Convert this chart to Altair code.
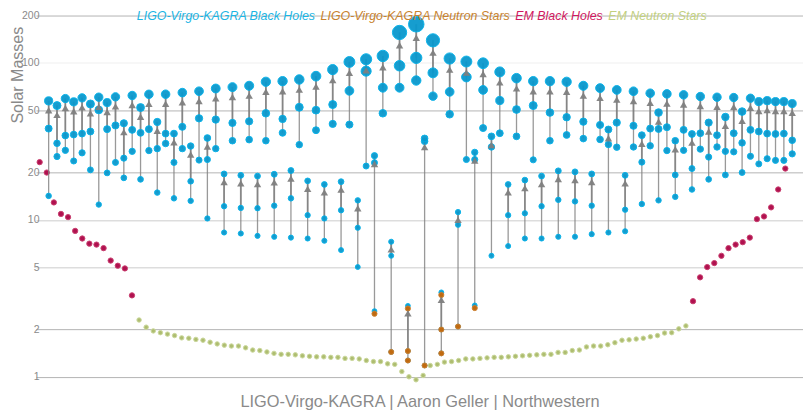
import altair as alt
import numpy as np
import pandas as pd

# final mass, heavier progenitor, lighter progenitor of each LVK merger, left to right
final_mass = [
    57.2, 53.4, 59.2, 56.4, 59.8, 54.7, 60.4, 55.8, 60.7, 41.2,
    61.9, 51.9, 63.0, 42.0, 63.1, 35.4, 64.6, 29.5, 65.9, 33.2,
    68.6, 19.6, 70.0, 19.2, 71.4, 19.0, 75.7, 19.5, 76.4, 20.6,
    78.3, 17.7, 82.2, 16.8, 90.5, 17.5, 101.3, 13.3, 105.3, 25.6,
    110.6, 7.25, 156.0, 2.83, 176.0, 33.0, 139.0, 3.45, 106.5, 11.2,
    101.9, 26.9, 99.4, 34.0, 87.5, 16.8, 79.8, 17.9, 76.4, 19.0,
    76.4, 20.5, 75.7, 20.2, 71.4, 19.6, 69.0, 37.6, 67.2, 19.2,
    65.9, 34.6, 64.0, 48.2, 63.4, 31.9, 62.5, 35.2, 61.0, 41.6,
    60.4, 45.2, 60.1, 48.9, 59.5, 56.6, 57.4, 56.6, 56.6, 55.0,
]
primary_mass = [
    38.1, 30.7, 34.4, 34.9, 35.4, 36.5, 50.1, 37.8, 39.9, 24.7,
    37.4, 35.8, 37.8, 28.4, 35.4, 23.2, 39.1, 17.6, 44.3, 24.2,
    43.5, 12.2, 41.4, 11.9, 42.4, 11.85, 47.7, 12.3, 43.9, 13.7,
    52.1, 10.7, 49.9, 10.2, 54.2, 11.5, 66.3, 8.9, 88.5, 23.1,
    69.4, 5.9, 95.8, 1.46, 107.5, 31.6, 86.3, 2.0, 65.3, 9.3,
    81.1, 24.2, 67.2, 29.1, 57.5, 10.7, 50.4, 11.0, 53.4, 12.2,
    48.2, 13.4, 45.0, 13.1, 42.2, 12.3, 40.2, 30.2, 41.6, 11.6,
    39.7, 23.3, 38.1, 37.9, 38.9, 19.3, 37.4, 21.2, 35.6, 25.1,
    34.6, 27.3, 35.6, 30.9, 37.4, 36.5, 35.4, 35.2, 35.4, 32.1,
]
secondary_mass = [
    14.2, 25.3, 27.7, 23.7, 26.7, 20.8, 12.5, 19.9, 23.2, 18.5,
    27.3, 18.1, 27.6, 14.9, 30.6, 13.7, 28.4, 13.2, 24.0, 10.2,
    28.4, 8.3, 31.9, 8.18, 32.4, 7.9, 31.9, 7.79, 35.8, 7.7,
    30.1, 7.6, 37.2, 7.35, 40.8, 6.41, 40.4, 5.0, 22.0, 2.62,
    47.7, 1.44, 69.4, 1.27, 77.1, 1.18, 61.3, 1.41, 47.0, 2.09,
    24.2, 2.85, 38.4, 5.9, 35.6, 6.8, 34.0, 7.6, 24.1, 7.6,
    31.9, 7.8, 34.7, 7.8, 32.9, 8.1, 32.5, 8.3, 29.0, 8.45,
    29.1, 12.6, 29.6, 13.3, 27.6, 14.0, 27.7, 15.6, 28.2, 18.1,
    29.1, 19.3, 27.1, 20.0, 25.4, 22.7, 24.5, 23.9, 23.9, 26.3,
]

# objects in LVK mergers that are neutron stars
lvk_ns_system = [39, 41, 43, 43, 43, 45, 47, 47, 47, 49, 51]
lvk_ns_mass = [2.52, 1.44, 2.72, 1.46, 1.27, 1.18, 3.32, 2.0, 1.41, 2.09, 2.74]

em_bh_left = [23.3, 20.0, 12.9, 10.9, 10.4, 8.5, 7.6, 7.05, 6.95, 6.6, 5.5, 5.1, 4.9, 3.3]
em_ns = [
    2.30, 2.07, 1.96, 1.91, 1.87, 1.83, 1.77, 1.76, 1.73, 1.71,
    1.66, 1.62, 1.59, 1.57, 1.57, 1.53, 1.48, 1.47, 1.44, 1.41,
    1.39, 1.39, 1.38, 1.36, 1.35, 1.34, 1.34, 1.33, 1.33, 1.31,
    1.31, 1.30, 1.27, 1.25, 1.25, 1.21, 1.20, 1.08, 1.00, 0.957,
    1.02, 1.18, 1.20, 1.24, 1.25, 1.27, 1.30, 1.30, 1.31, 1.32,
    1.33, 1.33, 1.34, 1.35, 1.36, 1.37, 1.38, 1.39, 1.39, 1.43,
    1.43, 1.47, 1.48, 1.55, 1.57, 1.57, 1.60, 1.65, 1.71, 1.72,
    1.74, 1.76, 1.80, 1.83, 1.90, 1.91, 2.02, 2.11,
]
em_bh_right = [3.03, 4.3, 5.0, 5.3, 5.9, 6.6, 6.95, 7.2, 7.7, 10.1, 10.5, 12.0, 15.6, 21.2]

grid_values = [1, 2, 5, 10, 20, 50, 100, 200]
legend_labels = [
    "LIGO-Virgo-KAGRA Black Holes",
    "LIGO-Virgo-KAGRA Neutron Stars",
    "EM Black Holes",
    "EM Neutron Stars",
]
legend_colors = ["#1bb5e4", "#c8822e", "#d0185f", "#c2d07f"]
legend_x = [101, 285, 480, 573]

FONT = "Liberation Sans"
GREY = "#8a8a8a"

systems = pd.DataFrame({
    "system": range(len(final_mass)),
    "final": final_mass,
    "primary": primary_mass,
    "secondary": secondary_mass,
})
lvk_dots = systems.melt(id_vars="system", value_vars=["secondary", "primary", "final"], value_name="mass")
lvk_dots["radius"] = 2.6 + 0.035 * lvk_dots["mass"]
lvk_dots["area"] = np.pi * lvk_dots["radius"] ** 2

# arrow head sits just under the final mass dot
systems["head"] = systems["final"] / 10 ** ((2.6 + 0.035 * systems["final"] + 4.8) / 157.2)

em_mass = em_bh_left + em_ns + em_bh_right
em = pd.DataFrame({"mass": em_mass})
# the EM row is spaced a little tighter than the LVK row
em["system"] = -1.076 + 0.85 * np.arange(len(em_mass))
em["kind"] = ["bh"] * len(em_bh_left) + ["ns"] * len(em_ns) + ["bh"] * len(em_bh_right)

lvk_ns = pd.DataFrame({"system": lvk_ns_system, "mass": lvk_ns_mass})

x = alt.X(
    "system:Q",
    scale=alt.Scale(domain=[-1.518, 90.29], nice=False, zero=False),
    axis=alt.Axis(
        title="LIGO-Virgo-KAGRA | Aaron Geller | Northwestern",
        labels=False, ticks=False, domain=False, grid=False,
        titleFont=FONT, titleFontSize=16.4, titleFontWeight="normal", titleColor=GREY,
        titleY=29.5, titleBaseline="alphabetic",
    ),
)
y_scale = alt.Scale(type="log", domain=[1, 200], nice=False)
y_axis = alt.Axis(
    title="Solar Masses",
    values=grid_values, format="d",
    ticks=False, domain=False, labelPadding=-3,
    labelFont=FONT, labelFontSize=10.5, labelColor=GREY,
    gridColor=alt.expr("datum.value == 100 ? '#efefef' : (datum.value == 5 || datum.value == 10) ? '#dddddd' : '#b4b4b4'"),
    gridWidth=alt.expr("(datum.value == 5 || datum.value == 10) ? 1.6 : 1"),
    titleFont=FONT, titleFontSize=16, titleFontWeight="normal", titleColor=GREY,
    titleX=-13.5, titleY=107.7, titleAngle=-90, titleAlign="left", titleBaseline="alphabetic",
)


def y_of(field):
    return alt.Y(f"{field}:Q", scale=y_scale, axis=y_axis)


em_ns_dots = alt.Chart(em[em["kind"] == "ns"]).mark_circle(
    size=20, fill="#aebd70", stroke="#cbd89e", strokeWidth=1, opacity=1
).encode(x=x, y=y_of("mass"))
em_bh_dots = alt.Chart(em[em["kind"] == "bh"]).mark_circle(
    size=28, fill="#b0114f", stroke="#c8406f", strokeWidth=1, opacity=1
).encode(x=x, y=y_of("mass"))

line_from_secondary = alt.Chart(systems).mark_rule(color="#808080", strokeWidth=1.3, opacity=0.8).encode(
    x=x, y=y_of("secondary"), y2="final:Q"
)
line_from_primary = alt.Chart(systems).mark_rule(color="#808080", strokeWidth=1.8, opacity=0.8).encode(
    x=x, y=y_of("primary"), y2="final:Q"
)

blue_dots = alt.Chart(lvk_dots).mark_circle(
    fill="#0a98cd", stroke="#00b0e8", strokeWidth=1, opacity=0.95
).encode(x=x, y=y_of("mass"), size=alt.Size("area:Q", scale=None, legend=None))
ns_dots = alt.Chart(lvk_ns).mark_circle(
    size=26, fill="#c06a10", stroke="#cc8030", strokeWidth=1, opacity=1
).encode(x=x, y=y_of("mass"))

heads = alt.Chart(systems).mark_point(
    shape="triangle-up", filled=True, size=55, color="#808080", opacity=0.95
).encode(x=x, y=y_of("head"))

legend_layers = [
    alt.Chart(pd.DataFrame({"label": [label]})).mark_text(
        font=FONT, fontSize=12.4, fontStyle="italic", align="left", baseline="alphabetic", color=color
    ).encode(x=alt.value(pos), y=alt.value(4), text="label:N")
    for label, color, pos in zip(legend_labels, legend_colors, legend_x)
]

chart = alt.layer(
    em_ns_dots, em_bh_dots, line_from_secondary, line_from_primary, blue_dots, ns_dots, heads, *legend_layers
).properties(
    width=768,
    height=361.7,
    autosize=alt.AutoSizeParams(type="none"),
    padding={"left": 28, "top": 7.3, "right": 0, "bottom": 36},
).configure_view(stroke=None)

chart.save("out.html", embed_options={"renderer": "svg", "actions": False})
